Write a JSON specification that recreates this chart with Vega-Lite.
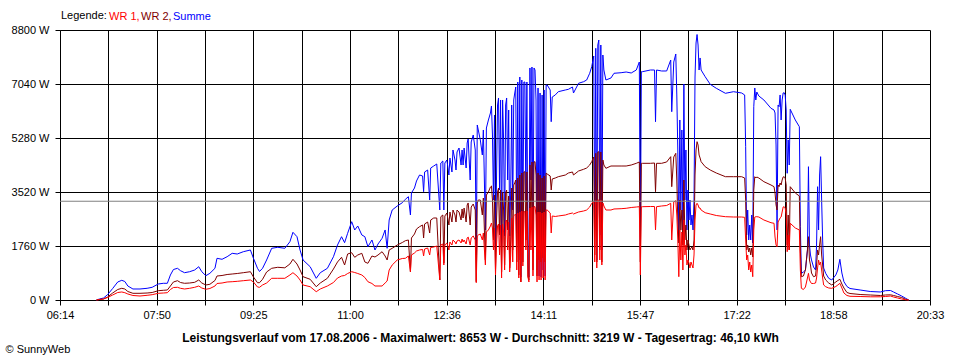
{
"$schema":"https://vega.github.io/schema/vega-lite/v6.json",
"width":870,"height":270,
"autosize":{"type":"none"},
"padding":{"left":60,"top":30,"right":30,"bottom":60},
"background":"white",
"config":{"view":{"stroke":null},"font":"Liberation Sans",
 "axis":{"labelFont":"Liberation Sans","labelFontSize":11,"labelColor":"black","domainColor":"black","tickColor":"black","gridColor":"black","gridOpacity":1,"tickSize":5,"gridWidth":1,"domainWidth":1,"tickWidth":1,"titleFont":"Liberation Sans","titleColor":"black"}},
"datasets":{"leistung":[
{"t":"06:50","WR1":0,"WR2":0,"Summe":0},
{"t":"06:53","WR1":16,"WR2":16,"Summe":33},
{"t":"06:57","WR1":33,"WR2":33,"Summe":65},
{"t":"07:01","WR1":81,"WR2":98,"Summe":175},
{"t":"07:06","WR1":163,"WR2":228,"Summe":375},
{"t":"07:11","WR1":244,"WR2":342,"Summe":587},
{"t":"07:15","WR1":261,"WR2":381,"Summe":642},
{"t":"07:18","WR1":238,"WR2":359,"Summe":603},
{"t":"07:21","WR1":196,"WR2":277,"Summe":456},
{"t":"07:26","WR1":147,"WR2":218,"Summe":359},
{"t":"07:33","WR1":130,"WR2":218,"Summe":359},
{"t":"07:40","WR1":153,"WR2":228,"Summe":381},
{"t":"07:45","WR1":173,"WR2":244,"Summe":414},
{"t":"07:51","WR1":218,"WR2":303,"Summe":521},
{"t":"07:56","WR1":228,"WR2":316,"Summe":544},
{"t":"08:00","WR1":238,"WR2":326,"Summe":544},
{"t":"08:03","WR1":342,"WR2":456,"Summe":815},
{"t":"08:06","WR1":407,"WR2":587,"Summe":994},
{"t":"08:10","WR1":414,"WR2":629,"Summe":1033},
{"t":"08:13","WR1":381,"WR2":570,"Summe":955},
{"t":"08:17","WR1":359,"WR2":544,"Summe":890},
{"t":"08:22","WR1":381,"WR2":554,"Summe":922},
{"t":"08:27","WR1":414,"WR2":577,"Summe":978},
{"t":"08:31","WR1":456,"WR2":652,"Summe":1085},
{"t":"08:34","WR1":391,"WR2":554,"Summe":922},
{"t":"08:38","WR1":349,"WR2":489,"Summe":792},
{"t":"08:42","WR1":375,"WR2":512,"Summe":870},
{"t":"08:47","WR1":456,"WR2":636,"Summe":1033},
{"t":"08:49","WR1":538,"WR2":782,"Summe":1359},
{"t":"08:54","WR1":554,"WR2":799,"Summe":1327},
{"t":"08:59","WR1":587,"WR2":831,"Summe":1411},
{"t":"09:04","WR1":596,"WR2":847,"Summe":1522},
{"t":"09:09","WR1":609,"WR2":864,"Summe":1499},
{"t":"09:15","WR1":629,"WR2":890,"Summe":1574},
{"t":"09:22","WR1":652,"WR2":922,"Summe":1630},
{"t":"09:25","WR1":587,"WR2":750,"Summe":1359},
{"t":"09:29","WR1":424,"WR2":564,"Summe":1033},
{"t":"09:31","WR1":414,"WR2":564,"Summe":930},
{"t":"09:34","WR1":489,"WR2":675,"Summe":1033},
{"t":"09:38","WR1":554,"WR2":913,"Summe":1304},
{"t":"09:43","WR1":707,"WR2":1033,"Summe":1685},
{"t":"09:49","WR1":707,"WR2":1066,"Summe":1718},
{"t":"09:56","WR1":707,"WR2":1049,"Summe":1685},
{"t":"10:01","WR1":815,"WR2":1173,"Summe":1900},
{"t":"10:04","WR1":890,"WR2":1327,"Summe":2207},
{"t":"10:08","WR1":782,"WR2":1173,"Summe":2063},
{"t":"10:11","WR1":652,"WR2":978,"Summe":1630},
{"t":"10:14","WR1":489,"WR2":759,"Summe":1304},
{"t":"10:21","WR1":433,"WR2":675,"Summe":1085},
{"t":"10:27","WR1":271,"WR2":433,"Summe":707},
{"t":"10:31","WR1":359,"WR2":554,"Summe":890},
{"t":"10:38","WR1":456,"WR2":707,"Summe":1033},
{"t":"10:44","WR1":570,"WR2":1010,"Summe":1411},
{"t":"10:48","WR1":717,"WR2":1239,"Summe":1793},
{"t":"10:52","WR1":782,"WR2":1392,"Summe":2063},
{"t":"10:55","WR1":799,"WR2":1141,"Summe":1868},
{"t":"10:58","WR1":864,"WR2":1499,"Summe":2174},
{"t":"11:02","WR1":922,"WR2":1542,"Summe":2552},
{"t":"11:05","WR1":896,"WR2":1392,"Summe":2282},
{"t":"11:08","WR1":864,"WR2":1467,"Summe":2412},
{"t":"11:12","WR1":815,"WR2":1522,"Summe":2119},
{"t":"11:15","WR1":733,"WR2":1239,"Summe":2063},
{"t":"11:18","WR1":596,"WR2":1196,"Summe":1737},
{"t":"11:22","WR1":538,"WR2":1434,"Summe":1956},
{"t":"11:25","WR1":456,"WR2":1401,"Summe":1630},
{"t":"11:28","WR1":456,"WR2":1467,"Summe":1825},
{"t":"11:32","WR1":456,"WR2":1574,"Summe":2011},
{"t":"11:35","WR1":554,"WR2":1434,"Summe":2282},
{"t":"11:37","WR1":619,"WR2":1304,"Summe":1685},
{"t":"11:39","WR1":978,"WR2":1630,"Summe":2607},
{"t":"11:42","WR1":1141,"WR2":1685,"Summe":2933},
{"t":"11:47","WR1":1304,"WR2":1793,"Summe":3064},
{"t":"11:52","WR1":1353,"WR2":1874,"Summe":3171},
{"t":"11:55","WR1":1359,"WR2":1933,"Summe":3282},
{"t":"11:58","WR1":1434,"WR2":1956,"Summe":3367},
{"t":"12:00","WR1":922,"WR2":922,"Summe":2770},
{"t":"12:01","WR1":1467,"WR2":2021,"Summe":3487},
{"t":"12:04","WR1":1532,"WR2":2151,"Summe":3650},
{"t":"12:06","WR1":1597,"WR2":2314,"Summe":3879},
{"t":"12:09","WR1":1630,"WR2":2389,"Summe":4074},
{"t":"12:12","WR1":1646,"WR2":2444,"Summe":4042},
{"t":"12:13","WR1":1434,"WR2":2021,"Summe":3530},
{"t":"12:14","WR1":1662,"WR2":2477,"Summe":4172},
{"t":"12:17","WR1":1695,"WR2":2542,"Summe":4237},
{"t":"12:19","WR1":1467,"WR2":2184,"Summe":3259},
{"t":"12:20","WR1":1711,"WR2":2607,"Summe":4302},
{"t":"12:23","WR1":1727,"WR2":2673,"Summe":4367},
{"t":"12:26","WR1":1760,"WR2":2673,"Summe":4433},
{"t":"12:29","WR1":652,"WR2":652,"Summe":2933},
{"t":"12:30","WR1":1793,"WR2":2715,"Summe":4465},
{"t":"12:32","WR1":1825,"WR2":2770,"Summe":4530},
{"t":"12:33","WR1":1141,"WR2":1206,"Summe":2933},
{"t":"12:34","WR1":1793,"WR2":2738,"Summe":4465},
{"t":"12:36","WR1":1858,"WR2":2836,"Summe":4563},
{"t":"12:38","WR1":1630,"WR2":2444,"Summe":4074},
{"t":"12:39","WR1":1890,"WR2":2868,"Summe":4628},
{"t":"12:41","WR1":1793,"WR2":2542,"Summe":4172},
{"t":"12:42","WR1":1956,"WR2":2933,"Summe":4889},
{"t":"12:44","WR1":1890,"WR2":2770,"Summe":4563},
{"t":"12:45","WR1":1825,"WR2":2542,"Summe":4237},
{"t":"12:46","WR1":1923,"WR2":2933,"Summe":4824},
{"t":"12:48","WR1":1956,"WR2":2868,"Summe":4954},
{"t":"12:50","WR1":1858,"WR2":2607,"Summe":4400},
{"t":"12:51","WR1":1988,"WR2":2966,"Summe":4889},
{"t":"12:52","WR1":1890,"WR2":2673,"Summe":4400},
{"t":"12:53","WR1":1956,"WR2":2999,"Summe":4954},
{"t":"12:55","WR1":1825,"WR2":2542,"Summe":4302},
{"t":"12:56","WR1":2021,"WR2":3096,"Summe":5117},
{"t":"12:57","WR1":2053,"WR2":3162,"Summe":5247},
{"t":"12:59","WR1":1793,"WR2":2444,"Summe":3911},
{"t":"13:00","WR1":2021,"WR2":3031,"Summe":5150},
{"t":"13:02","WR1":2086,"WR2":3129,"Summe":5378},
{"t":"13:04","WR1":1956,"WR2":2933,"Summe":4889},
{"t":"13:05","WR1":564,"WR2":596,"Summe":1467},
{"t":"13:06","WR1":2086,"WR2":3162,"Summe":5704},
{"t":"13:07","WR1":2119,"WR2":3259,"Summe":5541},
{"t":"13:09","WR1":2151,"WR2":3259,"Summe":5215},
{"t":"13:11","WR1":1956,"WR2":2770,"Summe":4726},
{"t":"13:12","WR1":2184,"WR2":3324,"Summe":5541},
{"t":"13:14","WR1":1141,"WR2":1304,"Summe":2282},
{"t":"13:15","WR1":2216,"WR2":3422,"Summe":5606},
{"t":"13:17","WR1":2282,"WR2":3520,"Summe":5867},
{"t":"13:19","WR1":2412,"WR2":3683,"Summe":6095},
{"t":"13:20","WR1":2510,"WR2":3716,"Summe":6323},
{"t":"13:21","WR1":2347,"WR2":3259,"Summe":5378},
{"t":"13:22","WR1":1630,"WR2":1956,"Summe":3259},
{"t":"13:23","WR1":2347,"WR2":3422,"Summe":6030},
{"t":"13:24","WR1":815,"WR2":978,"Summe":1630},
{"t":"13:25","WR1":1793,"WR2":2607,"Summe":3976},
{"t":"13:26","WR1":2412,"WR2":3520,"Summe":6356},
{"t":"13:27","WR1":2477,"WR2":3650,"Summe":6584},
{"t":"13:28","WR1":1467,"WR2":2119,"Summe":3585},
{"t":"13:29","WR1":2444,"WR2":3585,"Summe":6519},
{"t":"13:30","WR1":717,"WR2":913,"Summe":1760},
{"t":"13:31","WR1":2477,"WR2":3520,"Summe":6519},
{"t":"13:32","WR1":2216,"WR2":2933,"Summe":5215},
{"t":"13:33","WR1":978,"WR2":1141,"Summe":2086},
{"t":"13:34","WR1":2542,"WR2":3487,"Summe":6356},
{"t":"13:35","WR1":2607,"WR2":3585,"Summe":6584},
{"t":"13:36","WR1":1630,"WR2":2282,"Summe":3911},
{"t":"13:37","WR1":2542,"WR2":3390,"Summe":6193},
{"t":"13:38","WR1":913,"WR2":1043,"Summe":2086},
{"t":"13:39","WR1":1467,"WR2":1956,"Summe":3585},
{"t":"13:40","WR1":2673,"WR2":3650,"Summe":6356},
{"t":"13:41","WR1":1239,"WR2":1630,"Summe":2933},
{"t":"13:42","WR1":2738,"WR2":3748,"Summe":6519},
{"t":"13:43","WR1":2770,"WR2":3813,"Summe":6747},
{"t":"13:44","WR1":2803,"WR2":3911,"Summe":6942},
{"t":"13:45","WR1":978,"WR2":1239,"Summe":2184},
{"t":"13:46","WR1":2836,"WR2":3976,"Summe":7105},
{"t":"13:47","WR1":717,"WR2":815,"Summe":1304},
{"t":"13:48","WR1":2868,"WR2":4074,"Summe":7268},
{"t":"13:49","WR1":587,"WR2":587,"Summe":750},
{"t":"13:50","WR1":2901,"WR2":4139,"Summe":7170},
{"t":"13:51","WR1":1108,"WR2":1239,"Summe":2282},
{"t":"13:52","WR1":2879,"WR2":4172,"Summe":7105},
{"t":"13:53","WR1":2879,"WR2":4182,"Summe":7105},
{"t":"13:54","WR1":1630,"WR2":1956,"Summe":3259},
{"t":"13:55","WR1":2901,"WR2":4172,"Summe":7105},
{"t":"13:56","WR1":750,"WR2":782,"Summe":1206},
{"t":"13:57","WR1":587,"WR2":652,"Summe":750},
{"t":"13:58","WR1":2999,"WR2":4400,"Summe":7562},
{"t":"13:59","WR1":1630,"WR2":2282,"Summe":3911},
{"t":"14:00","WR1":3031,"WR2":4498,"Summe":7594},
{"t":"14:01","WR1":782,"WR2":978,"Summe":1532},
{"t":"14:02","WR1":3041,"WR2":4498,"Summe":7562},
{"t":"14:03","WR1":3041,"WR2":4508,"Summe":7496},
{"t":"14:04","WR1":2770,"WR2":4074,"Summe":6519},
{"t":"14:05","WR1":587,"WR2":782,"Summe":978},
{"t":"14:06","WR1":2868,"WR2":4139,"Summe":6910},
{"t":"14:07","WR1":652,"WR2":1304,"Summe":782},
{"t":"14:08","WR1":2868,"WR2":4074,"Summe":6747},
{"t":"14:09","WR1":652,"WR2":1239,"Summe":750},
{"t":"14:10","WR1":2836,"WR2":3976,"Summe":6682},
{"t":"14:11","WR1":717,"WR2":1369,"Summe":978},
{"t":"14:12","WR1":2868,"WR2":4042,"Summe":6845},
{"t":"14:13","WR1":652,"WR2":1239,"Summe":782},
{"t":"14:14","WR1":2933,"WR2":4135,"Summe":7007},
{"t":"14:15","WR1":2933,"WR2":4107,"Summe":7007},
{"t":"14:18","WR1":2836,"WR2":4042,"Summe":6845},
{"t":"14:19","WR1":2184,"WR2":3585,"Summe":5811},
{"t":"14:20","WR1":2738,"WR2":3944,"Summe":6616},
{"t":"14:23","WR1":2722,"WR2":3976,"Summe":6682},
{"t":"14:26","WR1":2738,"WR2":4019,"Summe":6789},
{"t":"14:33","WR1":2770,"WR2":4074,"Summe":6845},
{"t":"14:36","WR1":2803,"WR2":4139,"Summe":6867},
{"t":"14:40","WR1":2836,"WR2":4172,"Summe":6942},
{"t":"14:41","WR1":2803,"WR2":4074,"Summe":6747},
{"t":"14:46","WR1":2868,"WR2":4204,"Summe":7063},
{"t":"14:51","WR1":2901,"WR2":4260,"Summe":7115},
{"t":"14:54","WR1":2933,"WR2":4302,"Summe":7170},
{"t":"14:57","WR1":3031,"WR2":4400,"Summe":7389},
{"t":"14:59","WR1":3152,"WR2":4508,"Summe":7604},
{"t":"15:01","WR1":3210,"WR2":4661,"Summe":7953},
{"t":"15:02","WR1":1239,"WR2":1467,"Summe":2282},
{"t":"15:03","WR1":3237,"WR2":4781,"Summe":8204},
{"t":"15:04","WR1":1043,"WR2":1239,"Summe":1304},
{"t":"15:05","WR1":3259,"WR2":4824,"Summe":8311},
{"t":"15:06","WR1":3259,"WR2":4834,"Summe":8474},
{"t":"15:07","WR1":1304,"WR2":1630,"Summe":2119},
{"t":"15:08","WR1":3259,"WR2":4824,"Summe":8311},
{"t":"15:09","WR1":1141,"WR2":1239,"Summe":1630},
{"t":"15:10","WR1":3162,"WR2":4563,"Summe":7985},
{"t":"15:11","WR1":3064,"WR2":4400,"Summe":7496},
{"t":"15:13","WR1":2933,"WR2":4292,"Summe":7170},
{"t":"15:18","WR1":2933,"WR2":4367,"Summe":7236},
{"t":"15:21","WR1":2966,"WR2":4367,"Summe":7389},
{"t":"15:28","WR1":2976,"WR2":4367,"Summe":7408},
{"t":"15:33","WR1":2989,"WR2":4367,"Summe":7431},
{"t":"15:38","WR1":3015,"WR2":4400,"Summe":7399},
{"t":"15:43","WR1":3031,"WR2":4455,"Summe":7496},
{"t":"15:46","WR1":3041,"WR2":4498,"Summe":7757},
{"t":"15:47","WR1":815,"WR2":1239,"Summe":1630},
{"t":"15:48","WR1":3041,"WR2":4455,"Summe":7441},
{"t":"15:49","WR1":3041,"WR2":4455,"Summe":7441},
{"t":"15:57","WR1":3047,"WR2":4455,"Summe":7496},
{"t":"16:01","WR1":3047,"WR2":4465,"Summe":7496},
{"t":"16:02","WR1":2282,"WR2":3530,"Summe":5811},
{"t":"16:03","WR1":3041,"WR2":4455,"Summe":7496},
{"t":"16:08","WR1":3064,"WR2":4455,"Summe":7464},
{"t":"16:13","WR1":3080,"WR2":4498,"Summe":7464},
{"t":"16:17","WR1":3152,"WR2":4671,"Summe":7822},
{"t":"16:18","WR1":1956,"WR2":3693,"Summe":6137},
{"t":"16:20","WR1":3194,"WR2":4661,"Summe":7757},
{"t":"16:22","WR1":3237,"WR2":4781,"Summe":8018},
{"t":"16:23","WR1":2770,"WR2":3911,"Summe":6682},
{"t":"16:24","WR1":1956,"WR2":2607,"Summe":4889},
{"t":"16:25","WR1":759,"WR2":1858,"Summe":2086},
{"t":"16:26","WR1":2282,"WR2":3259,"Summe":5867},
{"t":"16:27","WR1":1304,"WR2":2282,"Summe":2933},
{"t":"16:28","WR1":2216,"WR2":2933,"Summe":5541},
{"t":"16:29","WR1":978,"WR2":1793,"Summe":2282},
{"t":"16:30","WR1":2607,"WR2":3911,"Summe":7040},
{"t":"16:31","WR1":1467,"WR2":1956,"Summe":3259},
{"t":"16:32","WR1":1793,"WR2":2444,"Summe":4889},
{"t":"16:33","WR1":1141,"WR2":1630,"Summe":2282},
{"t":"16:34","WR1":1304,"WR2":1956,"Summe":3585},
{"t":"16:35","WR1":1206,"WR2":1793,"Summe":2607},
{"t":"16:36","WR1":1043,"WR2":1630,"Summe":3259},
{"t":"16:37","WR1":1239,"WR2":1695,"Summe":2444},
{"t":"16:38","WR1":1141,"WR2":1727,"Summe":2770},
{"t":"16:39","WR1":1043,"WR2":1630,"Summe":2282},
{"t":"16:40","WR1":1467,"WR2":1956,"Summe":3259},
{"t":"16:41","WR1":2607,"WR2":4074,"Summe":7268},
{"t":"16:42","WR1":3096,"WR2":4889,"Summe":8376},
{"t":"16:43","WR1":3152,"WR2":5160,"Summe":8653},
{"t":"16:44","WR1":3096,"WR2":5052,"Summe":8311},
{"t":"16:45","WR1":2999,"WR2":4726,"Summe":7496},
{"t":"16:46","WR1":2999,"WR2":4628,"Summe":7888},
{"t":"16:47","WR1":2933,"WR2":4508,"Summe":7496},
{"t":"16:51","WR1":2845,"WR2":4345,"Summe":7278},
{"t":"16:56","WR1":2803,"WR2":4237,"Summe":7030},
{"t":"17:02","WR1":2754,"WR2":4139,"Summe":6900},
{"t":"17:11","WR1":2715,"WR2":4019,"Summe":6737},
{"t":"17:19","WR1":2705,"WR2":4019,"Summe":6789},
{"t":"17:27","WR1":2705,"WR2":4019,"Summe":6747},
{"t":"17:30","WR1":2695,"WR2":3976,"Summe":6682},
{"t":"17:31","WR1":1956,"WR2":3259,"Summe":4997},
{"t":"17:32","WR1":1304,"WR2":1630,"Summe":2119},
{"t":"17:33","WR1":1467,"WR2":1793,"Summe":2933},
{"t":"17:34","WR1":978,"WR2":1564,"Summe":1956},
{"t":"17:35","WR1":1239,"WR2":1695,"Summe":2444},
{"t":"17:36","WR1":913,"WR2":1467,"Summe":1956},
{"t":"17:37","WR1":1141,"WR2":1695,"Summe":2770},
{"t":"17:38","WR1":759,"WR2":1401,"Summe":1858},
{"t":"17:39","WR1":2282,"WR2":3585,"Summe":6300},
{"t":"17:40","WR1":2705,"WR2":4019,"Summe":6910},
{"t":"17:41","WR1":2715,"WR2":3976,"Summe":6519},
{"t":"17:42","WR1":2715,"WR2":4009,"Summe":6779},
{"t":"17:44","WR1":2705,"WR2":3976,"Summe":6649},
{"t":"17:49","WR1":2607,"WR2":3856,"Summe":6519},
{"t":"17:56","WR1":2519,"WR2":3748,"Summe":6248},
{"t":"17:59","WR1":2500,"WR2":3693,"Summe":6193},
{"t":"18:00","WR1":2053,"WR2":3487,"Summe":6095},
{"t":"18:01","WR1":1793,"WR2":3096,"Summe":5052},
{"t":"18:02","WR1":1737,"WR2":2933,"Summe":2282},
{"t":"18:03","WR1":2542,"WR2":3748,"Summe":6356},
{"t":"18:04","WR1":2607,"WR2":3693,"Summe":6300},
{"t":"18:05","WR1":2673,"WR2":3813,"Summe":6682},
{"t":"18:06","WR1":2705,"WR2":3748,"Summe":5867},
{"t":"18:07","WR1":2868,"WR2":3911,"Summe":6519},
{"t":"18:08","WR1":3031,"WR2":4009,"Summe":6747},
{"t":"18:09","WR1":3041,"WR2":4019,"Summe":6757},
{"t":"18:10","WR1":2999,"WR2":3976,"Summe":6682},
{"t":"18:11","WR1":2770,"WR2":3748,"Summe":6193},
{"t":"18:12","WR1":1574,"WR2":1793,"Summe":4130},
{"t":"18:13","WR1":2119,"WR2":2770,"Summe":5215},
{"t":"18:14","WR1":1630,"WR2":1630,"Summe":4400},
{"t":"18:15","WR1":2500,"WR2":3693,"Summe":6215},
{"t":"18:20","WR1":2347,"WR2":3487,"Summe":5867},
{"t":"18:24","WR1":2282,"WR2":3390,"Summe":5648},
{"t":"18:25","WR1":978,"WR2":1630,"Summe":2389},
{"t":"18:26","WR1":381,"WR2":759,"Summe":870},
{"t":"18:28","WR1":342,"WR2":782,"Summe":913},
{"t":"18:30","WR1":424,"WR2":978,"Summe":978},
{"t":"18:32","WR1":717,"WR2":1630,"Summe":1630},
{"t":"18:33","WR1":870,"WR2":2063,"Summe":4345},
{"t":"18:34","WR1":652,"WR2":1304,"Summe":1793},
{"t":"18:35","WR1":587,"WR2":1141,"Summe":1467},
{"t":"18:36","WR1":538,"WR2":880,"Summe":1304},
{"t":"18:38","WR1":538,"WR2":759,"Summe":1076},
{"t":"18:40","WR1":554,"WR2":782,"Summe":978},
{"t":"18:41","WR1":717,"WR2":1141,"Summe":1793},
{"t":"18:42","WR1":1043,"WR2":1630,"Summe":3693},
{"t":"18:43","WR1":1304,"WR2":1467,"Summe":2282},
{"t":"18:44","WR1":1141,"WR2":1793,"Summe":4074},
{"t":"18:45","WR1":1239,"WR2":2063,"Summe":4671},
{"t":"18:46","WR1":978,"WR2":1467,"Summe":3259},
{"t":"18:47","WR1":717,"WR2":1141,"Summe":1956},
{"t":"18:48","WR1":489,"WR2":782,"Summe":1043},
{"t":"18:50","WR1":433,"WR2":652,"Summe":870},
{"t":"18:53","WR1":391,"WR2":554,"Summe":707},
{"t":"18:56","WR1":381,"WR2":489,"Summe":652},
{"t":"19:00","WR1":440,"WR2":587,"Summe":815},
{"t":"19:02","WR1":489,"WR2":636,"Summe":978},
{"t":"19:04","WR1":544,"WR2":675,"Summe":1327},
{"t":"19:06","WR1":391,"WR2":521,"Summe":880},
{"t":"19:08","WR1":228,"WR2":391,"Summe":596},
{"t":"19:11","WR1":147,"WR2":244,"Summe":440},
{"t":"19:14","WR1":121,"WR2":212,"Summe":375},
{"t":"19:24","WR1":114,"WR2":179,"Summe":326},
{"t":"19:34","WR1":104,"WR2":163,"Summe":277},
{"t":"19:44","WR1":104,"WR2":147,"Summe":261},
{"t":"19:49","WR1":114,"WR2":163,"Summe":303},
{"t":"19:54","WR1":130,"WR2":169,"Summe":310},
{"t":"19:57","WR1":98,"WR2":147,"Summe":261},
{"t":"20:01","WR1":65,"WR2":114,"Summe":196},
{"t":"20:05","WR1":33,"WR2":81,"Summe":130},
{"t":"20:09","WR1":7,"WR2":23,"Summe":55},
{"t":"20:12","WR1":0,"WR2":0,"Summe":0}
],
"mittel":[{"Durchschnitt":3219}]},
"data":{"name":"leistung","format":{"parse":{"t":"date:'%H:%M'"}}},
"encoding":{
 "x":{"field":"t","type":"temporal",
  "scale":{"domain":[{"year":1900,"month":1,"date":1,"hours":6,"minutes":14},{"year":1900,"month":1,"date":1,"hours":20,"minutes":33}],"nice":false},
  "axis":{"grid":true,"labelPadding":4,"labelAngle":0,"labelFlush":false,"labelOverlap":false,
   "values":[
    {"year":1900,"month":1,"date":1,"hours":6,"minutes":14,"seconds":0},
    {"year":1900,"month":1,"date":1,"hours":7,"minutes":1,"seconds":43},
    {"year":1900,"month":1,"date":1,"hours":7,"minutes":49,"seconds":27},
    {"year":1900,"month":1,"date":1,"hours":8,"minutes":37,"seconds":10},
    {"year":1900,"month":1,"date":1,"hours":9,"minutes":24,"seconds":53},
    {"year":1900,"month":1,"date":1,"hours":10,"minutes":12,"seconds":37},
    {"year":1900,"month":1,"date":1,"hours":11,"minutes":0,"seconds":20},
    {"year":1900,"month":1,"date":1,"hours":11,"minutes":48,"seconds":3},
    {"year":1900,"month":1,"date":1,"hours":12,"minutes":35,"seconds":47},
    {"year":1900,"month":1,"date":1,"hours":13,"minutes":23,"seconds":30},
    {"year":1900,"month":1,"date":1,"hours":14,"minutes":11,"seconds":13},
    {"year":1900,"month":1,"date":1,"hours":14,"minutes":58,"seconds":57},
    {"year":1900,"month":1,"date":1,"hours":15,"minutes":46,"seconds":40},
    {"year":1900,"month":1,"date":1,"hours":16,"minutes":34,"seconds":23},
    {"year":1900,"month":1,"date":1,"hours":17,"minutes":22,"seconds":7},
    {"year":1900,"month":1,"date":1,"hours":18,"minutes":9,"seconds":50},
    {"year":1900,"month":1,"date":1,"hours":18,"minutes":57,"seconds":33},
    {"year":1900,"month":1,"date":1,"hours":19,"minutes":45,"seconds":17},
    {"year":1900,"month":1,"date":1,"hours":20,"minutes":33,"seconds":0}],
   "labelExpr":"['06:14','','07:50','','09:25','','11:00','','12:36','','14:11','','15:47','','17:22','','18:58','','20:33'][round((datum.value - datetime(1900,0,1,6,14,0,0)) / 2863333.333)]",
   "title":"Leistungsverlauf vom 17.08.2006 - Maximalwert: 8653 W - Durchschnitt: 3219 W - Tagesertrag: 46,10 kWh",
   "titleFontSize":12,"titleFontWeight":"bold","titleX":420,"titleY":41,"titleAlign":"center","titleBaseline":"alphabetic"}}
},
"layer":[
{"mark":{"type":"line","strokeWidth":1,"interpolate":"linear"},
 "encoding":{
  "y":{"field":"Summe","type":"quantitative",
   "scale":{"domain":[0,8800],"nice":false,"zero":true},
   "axis":{"grid":true,"values":[0,1760,3520,5280,7040,8800],"labelExpr":"datum.value + ' W'","labelPadding":6,
    "title":"© SunnyWeb","titleAngle":0,"titleX":-55,"titleY":319,"titleAlign":"left","titleBaseline":"middle","titleFontSize":11,"titleFontWeight":"normal"}},
  "color":{"datum":"Summe","type":"nominal",
   "scale":{"domain":["WR 1","WR 2","Summe"],"range":["#ff0000","#800000","#0000ff"]},
   "legend":{"orient":"none","legendX":1,"legendY":-19,"direction":"horizontal","gridAlign":"none","title":"Legende:","titleOrient":"left","titleFontSize":11,"titleFontWeight":"normal","titleColor":"black","titlePadding":3,"titleFont":"Liberation Sans",
    "labelFont":"Liberation Sans","labelFontSize":11,"labelOffset":-12,"columnPadding":1,"symbolType":"circle","symbolSize":0.01,"symbolOpacity":0,"symbolStrokeWidth":0,"padding":0,
    "labelExpr":"datum.label == 'Summe' ? datum.label : datum.label + ','",
    "labelColor":{"expr":"datum.value == 'WR 1' ? '#ff0000' : datum.value == 'WR 2' ? '#800000' : '#0000ff'"}}}}},
{"mark":{"type":"line","strokeWidth":1,"interpolate":"linear"},
 "encoding":{
  "y":{"field":"WR2","type":"quantitative",
   "axis":{"grid":true,"values":[0,1760,3520,5280,7040,8800],"labelExpr":"datum.value + ' W'","labelPadding":6,
    "title":"© SunnyWeb","titleAngle":0,"titleX":-55,"titleY":319,"titleAlign":"left","titleBaseline":"middle","titleFontSize":11,"titleFontWeight":"normal"}},
  "color":{"datum":"WR 2","type":"nominal"}}},
{"mark":{"type":"line","strokeWidth":1,"interpolate":"linear"},
 "encoding":{
  "y":{"field":"WR1","type":"quantitative",
   "axis":{"grid":true,"values":[0,1760,3520,5280,7040,8800],"labelExpr":"datum.value + ' W'","labelPadding":6,
    "title":"© SunnyWeb","titleAngle":0,"titleX":-55,"titleY":319,"titleAlign":"left","titleBaseline":"middle","titleFontSize":11,"titleFontWeight":"normal"}},
  "color":{"datum":"WR 1","type":"nominal"}}},
{"data":{"name":"mittel"},
 "mark":{"type":"rule","color":"#808080","strokeWidth":1},
 "encoding":{"x":null,
  "y":{"field":"Durchschnitt","type":"quantitative",
   "axis":{"grid":true,"values":[0,1760,3520,5280,7040,8800],"labelExpr":"datum.value + ' W'","labelPadding":6,
    "title":"© SunnyWeb","titleAngle":0,"titleX":-55,"titleY":319,"titleAlign":"left","titleBaseline":"middle","titleFontSize":11,"titleFontWeight":"normal"}}}}
]
}
